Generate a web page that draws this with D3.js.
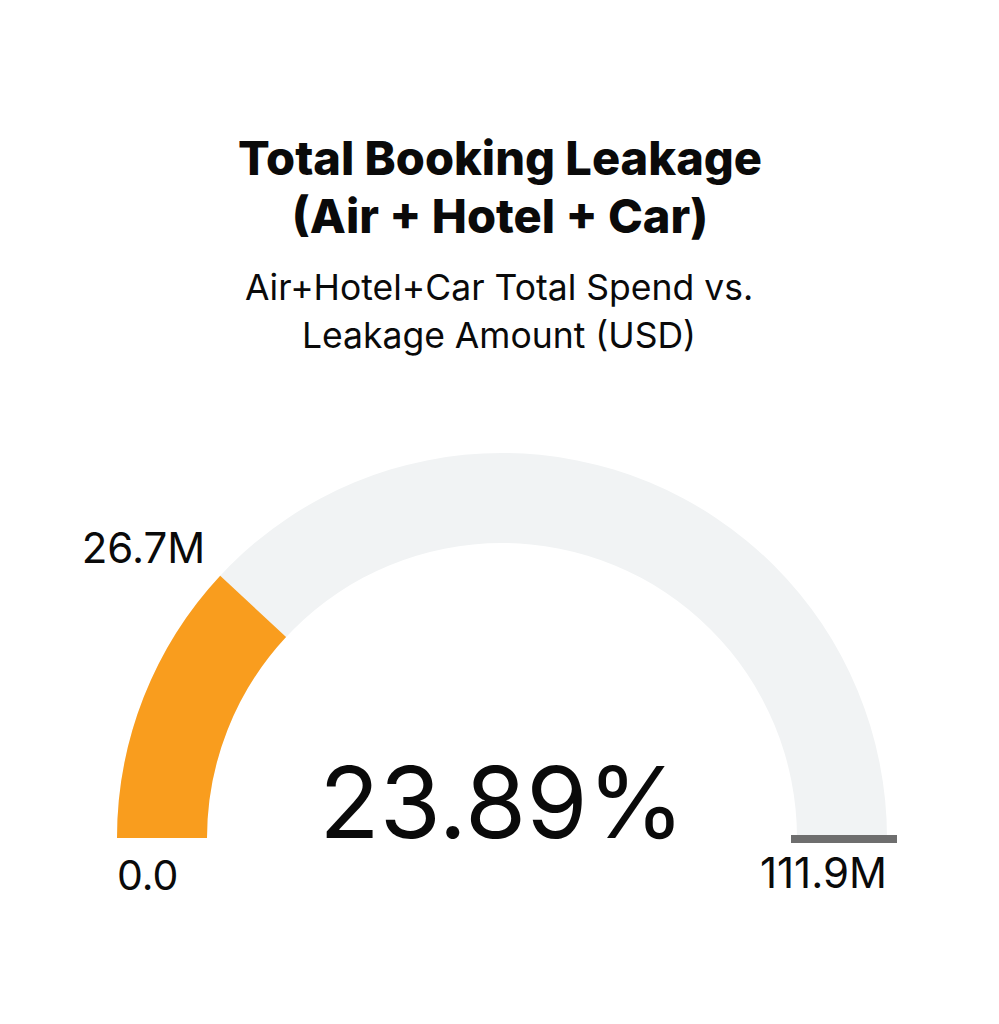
<!DOCTYPE html>
<html>
<head>
<meta charset="utf-8">
<script src="https://cdn.jsdelivr.net/npm/d3@7"></script>
<style>
  body { margin: 0; background: #fff; }
  svg { display: block; }
  text { font-family: Inter, "Noto Sans", sans-serif; fill: #0a0a0a; }
</style>
</head>
<body>
<svg id="chart"></svg>
<script>
// gauge data (USD, millions)
var titleLines = ["Total Booking Leakage", "(Air + Hotel + Car)"];
var subtitleLines = ["Air+Hotel+Car Total Spend vs.", "Leakage Amount (USD)"];
var gaugeMin = [0.0];
var gaugeMax = [111.9];
var leakage = [26.7];
var percentLabel = ["23.89%"];

var width = 999, height = 1024;
var cx = 502, cy = 838;
var outerR = 385, innerR = 295;

var svg = d3.select("#chart").attr("width", width).attr("height", height);

// title + subtitle
svg.selectAll("text.title")
  .data(titleLines)
  .enter()
  .append("text")
    .attr("class", "title")
    .attr("x", 500)
    .attr("y", function(d, i) { return 175 + i * 58; })
    .attr("text-anchor", "middle")
    .style("font-size", "47px")
    .style("font-weight", 800)
    .text(function(d) { return d; });

svg.selectAll("text.subtitle")
  .data(subtitleLines)
  .enter()
  .append("text")
    .attr("class", "subtitle")
    .attr("x", 499)
    .attr("y", function(d, i) { return 300 + i * 48; })
    .attr("text-anchor", "middle")
    .style("font-size", "35.5px")
    .style("font-weight", 400)
    .text(function(d) { return d; });

var angle = d3.scaleLinear()
  .domain([gaugeMin[0], gaugeMax[0]])
  .range([-Math.PI / 2, Math.PI / 2]);

var arc = d3.arc().innerRadius(innerR).outerRadius(outerR);

var g = svg.append("g").attr("transform", "translate(" + cx + "," + cy + ")");

// background track
g.append("path")
  .attr("d", arc({startAngle: angle(gaugeMin[0]), endAngle: angle(gaugeMax[0])}))
  .style("fill", "#f1f3f4");

// value arc
g.append("path")
  .attr("d", arc({startAngle: angle(gaugeMin[0]), endAngle: angle(leakage[0])}))
  .style("fill", "#f99d1e");

// max marker at the end of the track
g.append("line")
  .attr("x1", innerR * Math.sin(angle(gaugeMax[0])) - 6)
  .attr("x2", outerR * Math.sin(angle(gaugeMax[0])) + 10)
  .attr("y1", 1).attr("y2", 1)
  .style("stroke", "#6e6e6e")
  .style("stroke-width", 8);

// labels
var fmt = function(v) { return v === 0 ? "0.0" : d3.format(".1f")(v) + "M"; };

g.append("text")
  .attr("x", -outerR)
  .attr("y", 52)
  .attr("text-anchor", "start")
  .style("font-size", "41px")
  .text(fmt(gaugeMin[0]));

g.append("text")
  .attr("x", outerR)
  .attr("y", 50)
  .attr("text-anchor", "end")
  .style("font-size", "42px")
  .text(fmt(gaugeMax[0]));

var a = angle(leakage[0]);
g.append("text")
  .attr("x", outerR * Math.sin(a) - 15)
  .attr("y", -outerR * Math.cos(a) - 13)
  .attr("text-anchor", "end")
  .style("font-size", "42px")
  .text(fmt(leakage[0]));

g.append("text")
  .attr("x", 0)
  .attr("y", 0)
  .attr("text-anchor", "middle")
  .style("font-size", "99px")
  .text(percentLabel[0]);
</script>
</body>
</html>
